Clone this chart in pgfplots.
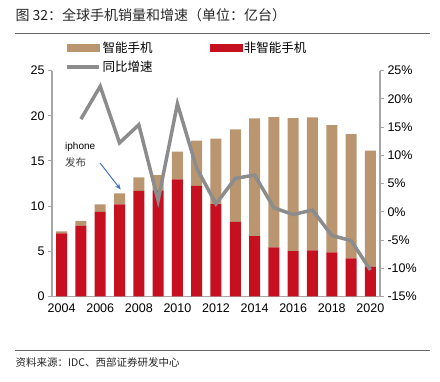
\documentclass[border=0pt]{standalone}
\usepackage{pgfplots}
\pgfplotsset{compat=1.18}
\usepackage{pgfplotstable}
\usetikzlibrary{arrows.meta}
\usepackage{fontspec}
\setmainfont{Liberation Sans}
\newfontfamily\cjk{Noto Sans CJK SC}
\definecolor{tanc}{RGB}{185,150,112}
\definecolor{redc}{RGB}{198,16,32}
\definecolor{linec}{RGB}{140,140,140}
\definecolor{axc}{RGB}{166,166,166}
\definecolor{arrc}{RGB}{68,114,196}

\pgfplotstableread{
year non smart
2004 6.98 0.22
2005 7.81 0.56
2006 9.36 0.84
2007 10.18 1.24
2008 11.68 1.51
2009 11.75 1.69
2010 12.97 3.06
2011 12.23 5.01
2012 10.21 7.25
2013 8.26 10.23
2014 6.68 13.02
2015 5.43 14.42
2016 5.02 14.72
2017 5.10 14.71
2018 4.88 14.08
2019 4.22 13.75
2020 3.29 12.85
}\sales

\pgfplotstableread{
year g
2005 16.4
2006 22.2
2007 12.2
2008 15.4
2009 2.0
2010 19.1
2011 7.7
2012 1.4
2013 5.9
2014 6.5
2015 0.7
2016 -0.5
2017 0.3
2018 -4.2
2019 -5.1
2020 -10.3
}\growth

\begin{document}
\begin{tikzpicture}[x=1pt,y=1pt]
\useasboundingbox (0,0) rectangle (440,381);
\node[anchor=west,font=\cjk\fontsize{14}{16}\selectfont,text=black!85] at (12,366) {图 32：全球手机销量和增速（单位：亿台）};
\draw[black!60,line width=0.8pt] (15,348) -- (430,348);
\draw[black!60,line width=0.8pt] (15,31) -- (430,31);
\node[anchor=west,font=\cjk\fontsize{10.5}{12}\selectfont,text=black!85] at (12,18) {资料来源：IDC、西部证券研发中心};

\begin{axis}[
  at={(52pt,84.5pt)}, anchor=south west,
  scale only axis, width=328pt, height=226pt,
  xmin=2003.5, xmax=2020.5, ymin=0, ymax=25,
  ybar stacked, bar width=11pt,
  axis x line*=bottom, axis y line*=left,
  axis line style={axc,line width=1.2pt},
  ytick={0,5,...,25},
  xtick={2004,2006,...,2020},
  xticklabels={2004,2006,2008,2010,2012,2014,2016,2018,2020},
  xtick style={draw=none},
  ytick style={axc,line width=1pt},
  tick align=outside, major tick length=4pt,
  extra x ticks={2005.5,2007.5,...,2019.5},
  extra x tick labels={},
  extra x tick style={xtick style={axc,line width=0.8pt}, tick align=inside},
  tick label style={font=\fontsize{12.5}{14}\selectfont},
  /pgf/number format/assume math mode=true,
  legend style={at={(0.03,1.145)}, anchor=north west, draw=none, fill=none,
    font=\cjk\fontsize{12.5}{14}\selectfont, row sep=3pt,
    /tikz/every even column/.append style={column sep=55pt}},
  legend columns=2, legend cell align=left,
]
\addlegendimage{legend image code/.code={\fill[tanc] (0pt,-3.5pt) rectangle (32pt,3.5pt);}}
\addlegendentry{智能手机}
\addlegendimage{legend image code/.code={\fill[redc] (0pt,-3.5pt) rectangle (32pt,3.5pt);}}
\addlegendentry{非智能手机}
\addlegendimage{legend image code/.code={\draw[linec,line width=3.5pt] (0pt,0pt) -- (32pt,0pt);}}
\addlegendentry{同比增速}
\addplot[fill=redc,draw=none,forget plot] table[x=year,y=non] {\sales};
\addplot[fill=tanc,draw=none,forget plot] table[x=year,y=smart] {\sales};
\node[anchor=west,font=\fontsize{10}{12}\selectfont] at (axis cs:2004.0,16.5) {iphone};
\node[anchor=west,font=\cjk\fontsize{10.5}{12}\selectfont,text=black!75] at (axis cs:2004.0,14.85) {发布};
\draw[arrc,line width=1pt,-{Stealth[length=6pt,width=5pt]}] (axis cs:2005.99,14.77) -- (axis cs:2007.06,11.83);
\end{axis}

\begin{axis}[
  at={(52pt,84.5pt)}, anchor=south west,
  scale only axis, width=328pt, height=226pt,
  xmin=2003.5, xmax=2020.5, ymin=-15, ymax=25,
  axis x line=none, axis y line*=right,
  axis line style={axc,line width=1.2pt},
  ytick={-15,-10,...,25},
  yticklabel={\pgfmathprintnumber{\tick}\%},
  ytick style={axc,line width=1pt},
  tick align=outside, major tick length=4pt,
  tick label style={font=\fontsize{12.5}{14}\selectfont},
  /pgf/number format/assume math mode=true,
]
\addplot[linec,line width=3.5pt] table[x=year,y=g] {\growth};
\end{axis}
\end{tikzpicture}
\end{document}
